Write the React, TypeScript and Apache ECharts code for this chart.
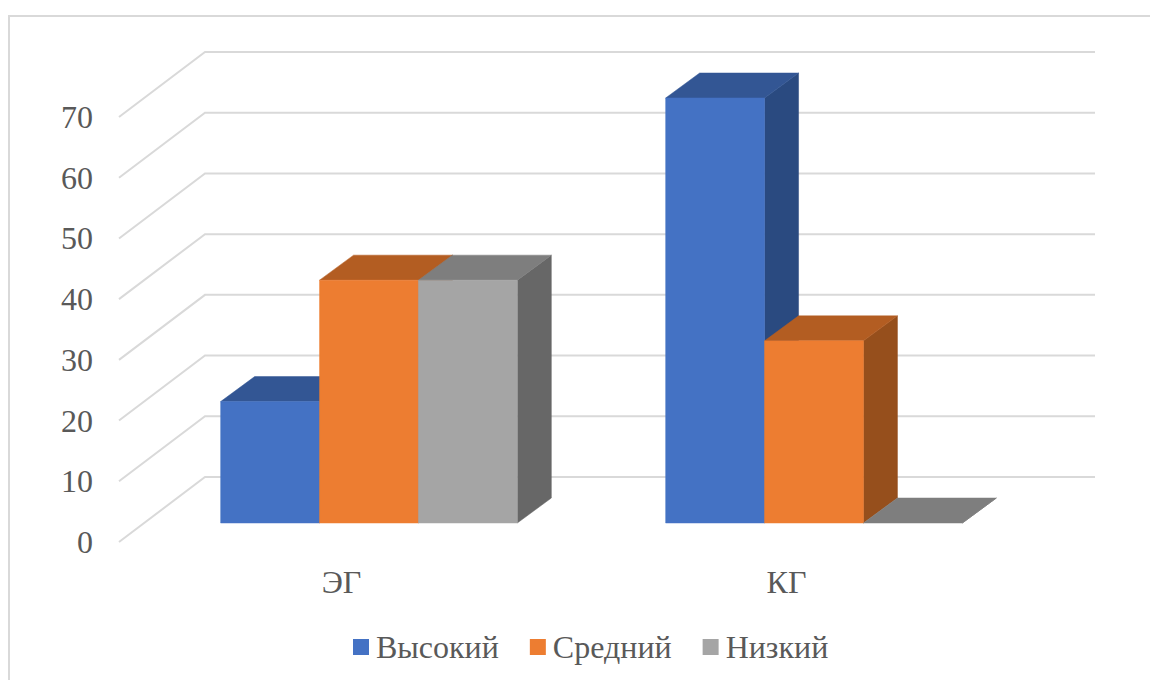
import React, { useEffect, useRef } from "react";
import * as echarts from "echarts";

const categories = ["ЭГ", "КГ"];
const seriesNames = ["Высокий", "Средний", "Низкий"];
const highValues = [20, 70];
const middleValues = [40, 30];
const lowValues = [40, 0];
const tickValues = [0, 10, 20, 30, 40, 50, 60, 70];

// [front, top, side] shades for each box
const bluePalette = ["#4472C4", "#335694", "#2A4A80"];
const orangePalette = ["#ED7D31", "#B35D22", "#964F1C"];
const grayPalette = ["#A5A5A5", "#7E7E7E", "#676767"];

const FONT = '"Liberation Serif", serif';
const TEXT = "#595959";
const GRID = "#D9D9D9";

// Oblique projection of the 3D walls and boxes, in pixels
const WALL_DX = 86;
const WALL_DY = -65;
const BOX_SHIFT_X = 27.5;
const BOX_SHIFT_Y = -19;
const BOX_DX = 34;
const BOX_DY = -25;
const GAP_RATIO = 1.5;

const polygon = (points: number[][], fill: string) => ({
  type: "polygon",
  shape: { points },
  style: { fill, stroke: fill, lineWidth: 0.5 },
});

// One extruded column: front face, top face and right side
const boxRenderer =
  (seriesIndex: number, palette: string[]) => (_params: any, api: any) => {
    const category = api.value(0);
    const base = api.coord([category, 0]);
    const head = api.coord([category, api.value(1)]);
    const band = api.size([1, 0])[0];
    const width = band / (seriesNames.length + GAP_RATIO);
    const x0 =
      base[0] + BOX_SHIFT_X - (width * seriesNames.length) / 2 + seriesIndex * width;
    const x1 = x0 + width;
    const bottom = base[1] + BOX_SHIFT_Y;
    const top = head[1] + BOX_SHIFT_Y;
    const children = [
      polygon(
        [
          [x1, top],
          [x1 + BOX_DX, top + BOX_DY],
          [x1 + BOX_DX, bottom + BOX_DY],
          [x1, bottom],
        ],
        palette[2]
      ),
      polygon(
        [
          [x0, top],
          [x0 + BOX_DX, top + BOX_DY],
          [x1 + BOX_DX, top + BOX_DY],
          [x1, top],
        ],
        palette[1]
      ),
    ];
    if (bottom > top) {
      children.push(
        polygon(
          [
            [x0, top],
            [x1, top],
            [x1, bottom],
            [x0, bottom],
          ],
          palette[0]
        )
      );
    }
    return { type: "group", children };
  };

// Gridline running up the side wall and across the back wall
const wallLineRenderer = (_params: any, api: any) => {
  const band = api.size([1, 0])[0];
  const [center, y] = api.coord([0, api.value(0)]);
  const x = center - band / 2;
  const wallWidth = band * categories.length;
  return {
    type: "polyline",
    shape: {
      points: [
        [x, y],
        [x + WALL_DX, y + WALL_DY],
        [x + WALL_DX + wallWidth, y + WALL_DY],
      ],
    },
    style: { fill: "none", stroke: GRID, lineWidth: 2 },
  };
};

const boxSeries = (
  name: string,
  values: number[],
  palette: string[],
  seriesIndex: number
) => ({
  type: "custom",
  name,
  clip: false,
  z: 3,
  itemStyle: { color: palette[0] },
  encode: { x: 0, y: 1 },
  data: values.map((value, index) => [index, value]),
  renderItem: boxRenderer(seriesIndex, palette),
});

export default function App() {
  const ref = useRef<HTMLDivElement>(null);

  useEffect(() => {
    const chart = echarts.init(ref.current!, undefined, { renderer: "svg" });
    chart.setOption({
      animation: false,
      backgroundColor: "#FFFFFF",
      grid: { left: 119, width: 890, top: 117, height: 425 },
      xAxis: {
        type: "category",
        data: categories,
        axisLine: { show: false },
        axisTick: { show: false },
        axisLabel: { color: TEXT, fontFamily: FONT, fontSize: 32, margin: 24 },
      },
      yAxis: {
        type: "value",
        min: 0,
        max: 70,
        interval: 10,
        splitLine: { show: false },
        axisLine: { show: false },
        axisTick: { show: false },
        axisLabel: { color: TEXT, fontFamily: FONT, fontSize: 32, margin: 26 },
      },
      legend: {
        data: seriesNames,
        left: 348,
        top: 626,
        icon: "rect",
        itemWidth: 16,
        itemHeight: 16,
        itemGap: 31,
        textStyle: {
          color: TEXT,
          fontFamily: FONT,
          fontSize: 32,
          padding: [0, 0, 0, 2],
        },
      },
      graphic: [
        {
          type: "polyline",
          silent: true,
          shape: {
            points: [
              [9, 690],
              [9, 16],
              [1160, 16],
            ],
          },
          style: { fill: "none", stroke: GRID, lineWidth: 2 },
        },
      ],
      series: [
        {
          type: "custom",
          name: "walls",
          clip: false,
          z: 1,
          silent: true,
          encode: { y: 0 },
          data: tickValues.map((value) => [value]),
          renderItem: wallLineRenderer,
        },
        boxSeries(seriesNames[0], highValues, bluePalette, 0),
        boxSeries(seriesNames[1], middleValues, orangePalette, 1),
        boxSeries(seriesNames[2], lowValues, grayPalette, 2),
      ],
    });
    return () => chart.dispose();
  }, []);

  return (
    <div
      ref={ref}
      style={{ position: "absolute", left: 0, top: 0, width: 1150, height: 680 }}
    />
  );
}
